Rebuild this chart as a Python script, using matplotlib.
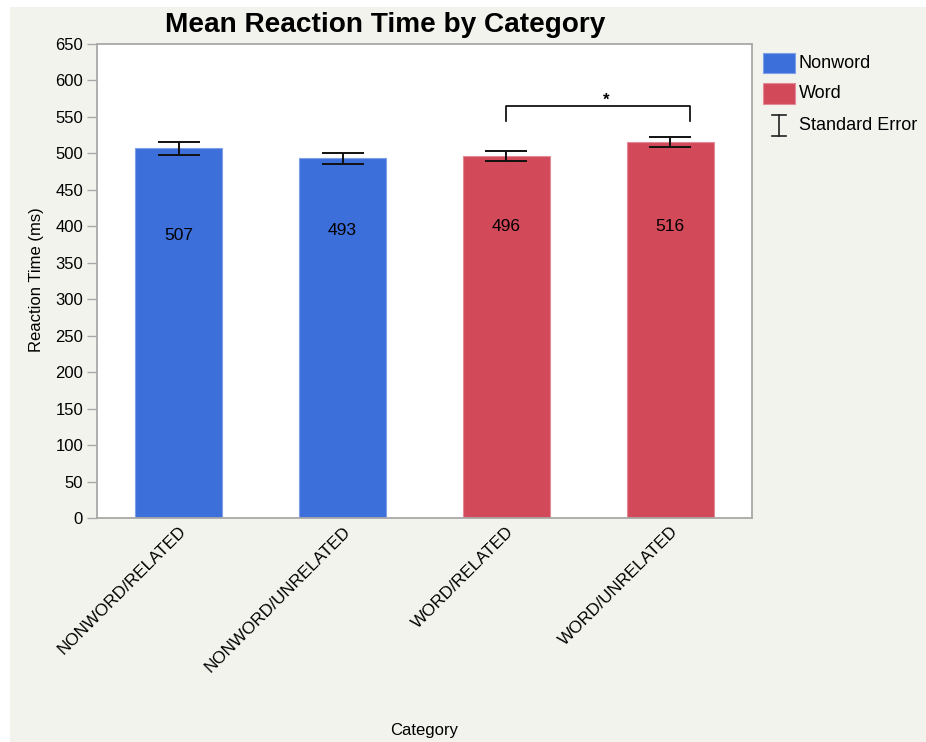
import matplotlib
matplotlib.use("Agg")
import matplotlib.pyplot as plt
from matplotlib.patches import Rectangle
from matplotlib.lines import Line2D

plt.rcParams['font.family'] = ['Liberation Sans', 'DejaVu Sans']

# Data
categories = ["NONWORD/RELATED", "NONWORD/UNRELATED", "WORD/RELATED", "WORD/UNRELATED"]
groups = ["Nonword", "Nonword", "Word", "Word"]
mean_rt = [507, 493, 496, 516]
std_err = [9.2, 8.2, 6.9, 6.6]
label_y = [387, 394, 400, 400]
yticks = list(range(0, 651, 50))

group_colors = {"Nonword": "#3D6FDA", "Word": "#D24A5A"}
edge_colors = {"Nonword": "#7FA0E8", "Word": "#E48A95"}
BG = "#F3F3EE"
AXIS_GREY = "#A8A8A8"

W, H = 926, 742
fig = plt.figure(figsize=(W / 100, H / 100), dpi=100, facecolor="white")

# Grey panel behind everything, leaving a thin white strip at left and top
fig.patches.append(Rectangle((10 / W, -0.01), 1, 1.01 - 7 / H, transform=fig.transFigure,
                             facecolor=BG, edgecolor="none", zorder=-10))

def fx(px):
    return px / W

def fy(py):
    return 1 - py / H

ax = fig.add_axes([fx(97), fy(518), fx(752) - fx(97), fy(44) - fy(518)])
ax.set_facecolor("white")

x = list(range(len(categories)))
colors = [group_colors[g] for g in groups]
edges = [edge_colors[g] for g in groups]
ax.bar(x, mean_rt, width=0.53, color=colors, edgecolor=edges, linewidth=0.8, zorder=2)
ax.errorbar(x, mean_rt, yerr=std_err, fmt="none", ecolor="#111111",
            elinewidth=1.4, capsize=14.8, capthick=1.4, zorder=3)

for xi, v, ly in zip(x, mean_rt, label_y):
    ax.text(xi, ly, f"{v}", ha="center", va="center", fontsize=12.5, color="black", zorder=4)

# Significance bracket between the two word conditions
br_left, br_right, br_top, br_leg = 2.0, 3.12, 565, 545
ax.plot([br_left, br_left, br_right, br_right], [br_leg, br_top, br_top, br_leg],
        color="black", linewidth=1.2, zorder=4)
ax.text(2.61, 573, "*", ha="center", va="center", fontsize=12, fontweight="bold")

ax.set_xlim(-0.5, 3.5)
ax.set_ylim(0, 650)
ax.set_yticks(yticks)
ax.set_yticklabels([str(t) for t in yticks], fontsize=12)
ax.set_xticks(x)
ax.set_xticklabels(categories, rotation=45, ha="right", rotation_mode="anchor", fontsize=12.3)
ax.tick_params(axis="y", length=7, color=AXIS_GREY, width=1, pad=3)
ax.tick_params(axis="x", length=0, pad=4)
for s in ax.spines.values():
    s.set_color(AXIS_GREY)
    s.set_linewidth(1.3)

fig.text(fx(37), fy(280), "Reaction Time (ms)", rotation=90, ha="center", va="center", fontsize=12)
fig.text(fx(424), fy(731), "Category", ha="center", va="center", fontsize=12)
fig.text(fx(385), fy(25), "Mean Reaction Time by Category", ha="center", va="center",
         fontsize=20.2, fontweight="bold")

# Legend
fig.patches.append(Rectangle((fx(763), fy(73)), fx(795) - fx(763), fy(53) - fy(73),
                             transform=fig.transFigure, facecolor=group_colors["Nonword"],
                             edgecolor=edge_colors["Nonword"], linewidth=0.8))
fig.patches.append(Rectangle((fx(763), fy(104)), fx(795) - fx(763), fy(83) - fy(104),
                             transform=fig.transFigure, facecolor=group_colors["Word"],
                             edgecolor=edge_colors["Word"], linewidth=0.8))
for xs, ys in [([779, 779], [115, 136]), ([772, 786], [115, 115]), ([772, 786], [136, 136])]:
    fig.lines.append(Line2D([fx(v) for v in xs], [fy(v) for v in ys],
                            transform=fig.transFigure, color="#222222", linewidth=1.2))
fig.text(fx(799), fy(63), "Nonword", ha="left", va="center", fontsize=13)
fig.text(fx(799), fy(94), "Word", ha="left", va="center", fontsize=13)
fig.text(fx(799), fy(125), "Standard Error", ha="left", va="center", fontsize=13)

fig.savefig("out.png", dpi=100, facecolor=fig.get_facecolor())
